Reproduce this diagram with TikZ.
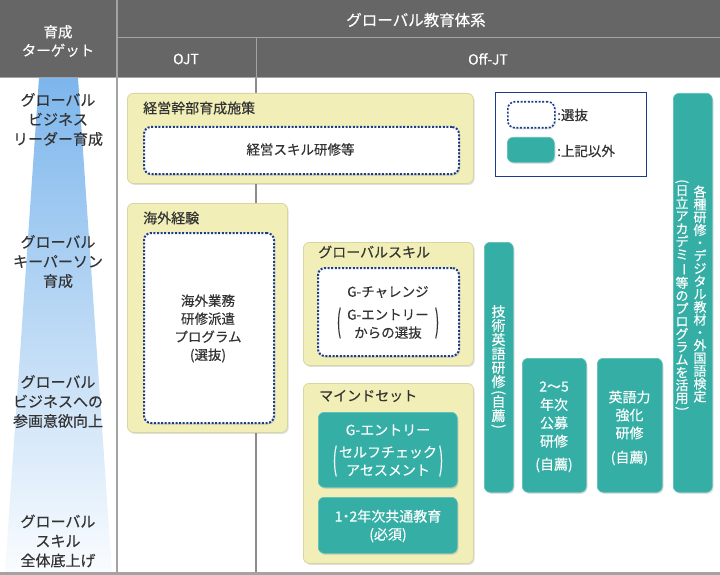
\documentclass[tikz,border=0pt]{standalone}
\usepackage{fontspec}
\usepackage{graphicx}
\setmainfont{Noto Sans CJK JP}[FakeBold=0.3]
\usetikzlibrary{shadows}
\definecolor{hdr}{HTML}{666666}
\definecolor{hline}{HTML}{A3A3A3}
\definecolor{ylw}{HTML}{F1EFB7}
\definecolor{ylwb}{HTML}{D8D5A0}
\definecolor{navyc}{HTML}{1B3C8E}
\definecolor{tealc}{HTML}{35AFA6}
\definecolor{txt}{HTML}{333333}
\definecolor{grad}{HTML}{7DB6EC}
\newcommand{\vp}[1]{\rotatebox[origin=c]{-90}{#1}}
\begin{document}
\begin{tikzpicture}[x=1pt,y=-1pt,text=txt,
  shd/.style={drop shadow={shadow xshift=1.2pt,shadow yshift=-1.5pt,opacity=0.25}},
  group/.style={draw=ylwb,fill=ylw,rounded corners=6pt,line width=0.8pt,anchor=north west,inner sep=0,shd},
  selbox/.style={draw=navyc,fill=white,line width=2pt,dash pattern=on 2pt off 1.6pt,rounded corners=7pt,anchor=north west,inner sep=0,shd},
  tbox/.style={fill=tealc,draw=tealc!80!white,line width=0.6pt,rounded corners=6pt,anchor=north west,inner sep=0,shd},
  lbl/.style={align=center,inner sep=0,font=\fontsize{15}{19.5}\selectfont},
  ttl/.style={anchor=west,inner sep=0,font=\fontsize{14}{16}\selectfont},
  btxt/.style={align=center,inner sep=0,font=\fontsize{13.5}{18}\selectfont},
  wtxt/.style={align=center,inner sep=0,text=white,font=\fontsize{14}{18}\selectfont},
  htxt/.style={align=center,inner sep=0,text=white,font=\fontsize{14.5}{18.5}\selectfont},
  vtxt/.style={align=center,inner sep=0,text=white,font=\fontsize{14}{14}\selectfont},
  vtxs/.style={align=center,inner sep=0,text=white,font=\fontsize{13}{12.8}\selectfont},
  bigp/.style={inner sep=0,font=\fontsize{13.5}{18}\selectfont}
]
\useasboundingbox (0,0) rectangle (720,575);
% header
\fill[hdr] (0,0) rectangle (720,78);
\draw[hline,line width=1pt] (117,38) -- (720,38);
\draw[hline,line width=1pt] (256,38) -- (256,78);
\draw[hline,line width=1pt] (0,77.5) -- (720,77.5);
\node[htxt] (hgoal) at (58,41) {育成\\ターゲット};
\node[htxt,font=\fontsize{15.5}{18}\selectfont] (hsys) at (416,20) {グローバル教育体系};
\node[htxt,font=\fontsize{14}{18}\selectfont] (hojt) at (186,59) {OJT};
\node[htxt,font=\fontsize{14}{18}\selectfont] (hoff) at (488,59) {Off-JT};
% left gradient
\shade[top color=grad,bottom color=grad!4] (39,78) -- (78,78) -- (112,572) -- (5,572) -- cycle;
% dividers
\draw[hline,line width=1.6pt] (117,0) -- (117,575);
\draw[black!45,line width=1.3pt] (256,78) -- (256,572);
\fill[hline] (0,572) rectangle (720,575);
% left labels
\node[lbl] (l1) at (58,119.5) {グローバル\\ビジネス\\リーダー育成};
\node[lbl] (l2) at (58,261.5) {グローバル\\キーパーソン\\育成};
\node[lbl] (l3) at (58,401.5) {グローバル\\ビジネスへの\\参画意欲向上};
\node[lbl] (l4) at (58,541) {グローバル\\スキル\\全体底上げ};
% group boxes
\node[group,minimum width=346pt,minimum height=90pt] (g1) at (127,93) {};
\node[ttl] (g1t) at (143,108) {経営幹部育成施策};
\node[selbox,minimum width=315pt,minimum height=47pt] (s1) at (143,126) {};
\node[btxt] (s1t) at (300.5,149.5) {経営スキル研修等};

\node[group,minimum width=160pt,minimum height=229pt] (g2) at (127,203) {};
\node[ttl] (g2t) at (143,218) {海外経験};
\node[selbox,minimum width=130pt,minimum height=190pt] (s2) at (143,232) {};
\node[btxt] (s2t) at (208,328.5) {海外業務\\研修派遣\\プログラム\\(選抜)};

\node[group,minimum width=170pt,minimum height=123pt] (g3) at (303,242) {};
\node[ttl] (g3t) at (318,252) {グローバルスキル};
\node[selbox,minimum width=141pt,minimum height=88pt] (s3) at (317,267) {};
\node[btxt] (s3a) at (388,292) {G-チャレンジ};
\node[btxt] (s3b) at (388,324) {G-エントリー\\からの選抜};
\node[bigp] (s3l) at (339,323) {\scalebox{1}[2.3]{(}};
\node[bigp] (s3r) at (437,323) {\scalebox{1}[2.3]{)}};

\node[group,minimum width=170pt,minimum height=180pt] (g4) at (303,383) {};
\node[ttl] (g4t) at (319,396) {マインドセット};
\node[tbox,minimum width=139pt,minimum height=75pt] (t1) at (318,412) {};
\node[wtxt] (t1a) at (388,430) {G-エントリー};
\node[wtxt] (t1b) at (388,461) {セルフチェック\\アセスメント};
\node[bigp,text=white] (t1l) at (335,461) {\scalebox{1}[2.3]{(}};
\node[bigp,text=white] (t1r) at (441,461) {\scalebox{1}[2.3]{)}};
\node[tbox,minimum width=139pt,minimum height=56pt] (t2) at (318,497) {};
\node[wtxt] (t2t) at (388,526) {1\kern-3.5pt・\kern-3.5pt2年次共通教育\\(必須)};

% legend
\node[draw=navyc,line width=0.9pt,fill=white,anchor=north west,inner sep=0,minimum width=151pt,minimum height=84pt] (leg) at (495,92) {};
\node[selbox,minimum width=47pt,minimum height=26pt,line width=1.6pt] (ls) at (507,101) {};
\node[tbox,minimum width=47pt,minimum height=25pt] (lt) at (507,137) {};
\node[btxt,anchor=west] (lst) at (557,115) {:選抜};
\node[btxt,anchor=west] (ltt) at (557,151) {:上記以外};

% vertical teal boxes
\node[tbox,minimum width=29pt,minimum height=250pt] (t3) at (484,242) {};
\node[vtxt] (t3t) at (498.5,368) {技\\術\\英\\語\\研\\修\\[-4pt]\vp{(}\\[-4pt]自\\薦\\[-4pt]\vp{)}};

\node[tbox,minimum width=64pt,minimum height=134pt] (t4) at (522,358) {};
\node[wtxt,font=\fontsize{14}{18.3}\selectfont] (t4a) at (554,414.5) {2〜5\\年次\\公募\\研修};
\node[wtxt] (t4b) at (554,465) {(自薦)};

\node[tbox,minimum width=65pt,minimum height=134pt] (t5) at (597,358) {};
\node[wtxt] (t5a) at (629.5,415) {英語力\\強化\\研修};
\node[wtxt] (t5b) at (629.5,458) {(自薦)};

\node[tbox,minimum width=39pt,minimum height=399pt] (t6) at (673,93) {};
\node[vtxs] (t6a) at (700,294) {各\\種\\研\\修\\・\\デ\\ジ\\タ\\ル\\教\\材\\・\\外\\国\\語\\検\\定};
\node[vtxs] (t6b) at (682,296) {\vp{(}\\[-3pt]日\\立\\ア\\カ\\デ\\ミ\\\vp{ー}\\等\\の\\プ\\ロ\\グ\\ラ\\ム\\を\\活\\用\\[-3pt]\vp{)}};
\end{tikzpicture}
\end{document}
